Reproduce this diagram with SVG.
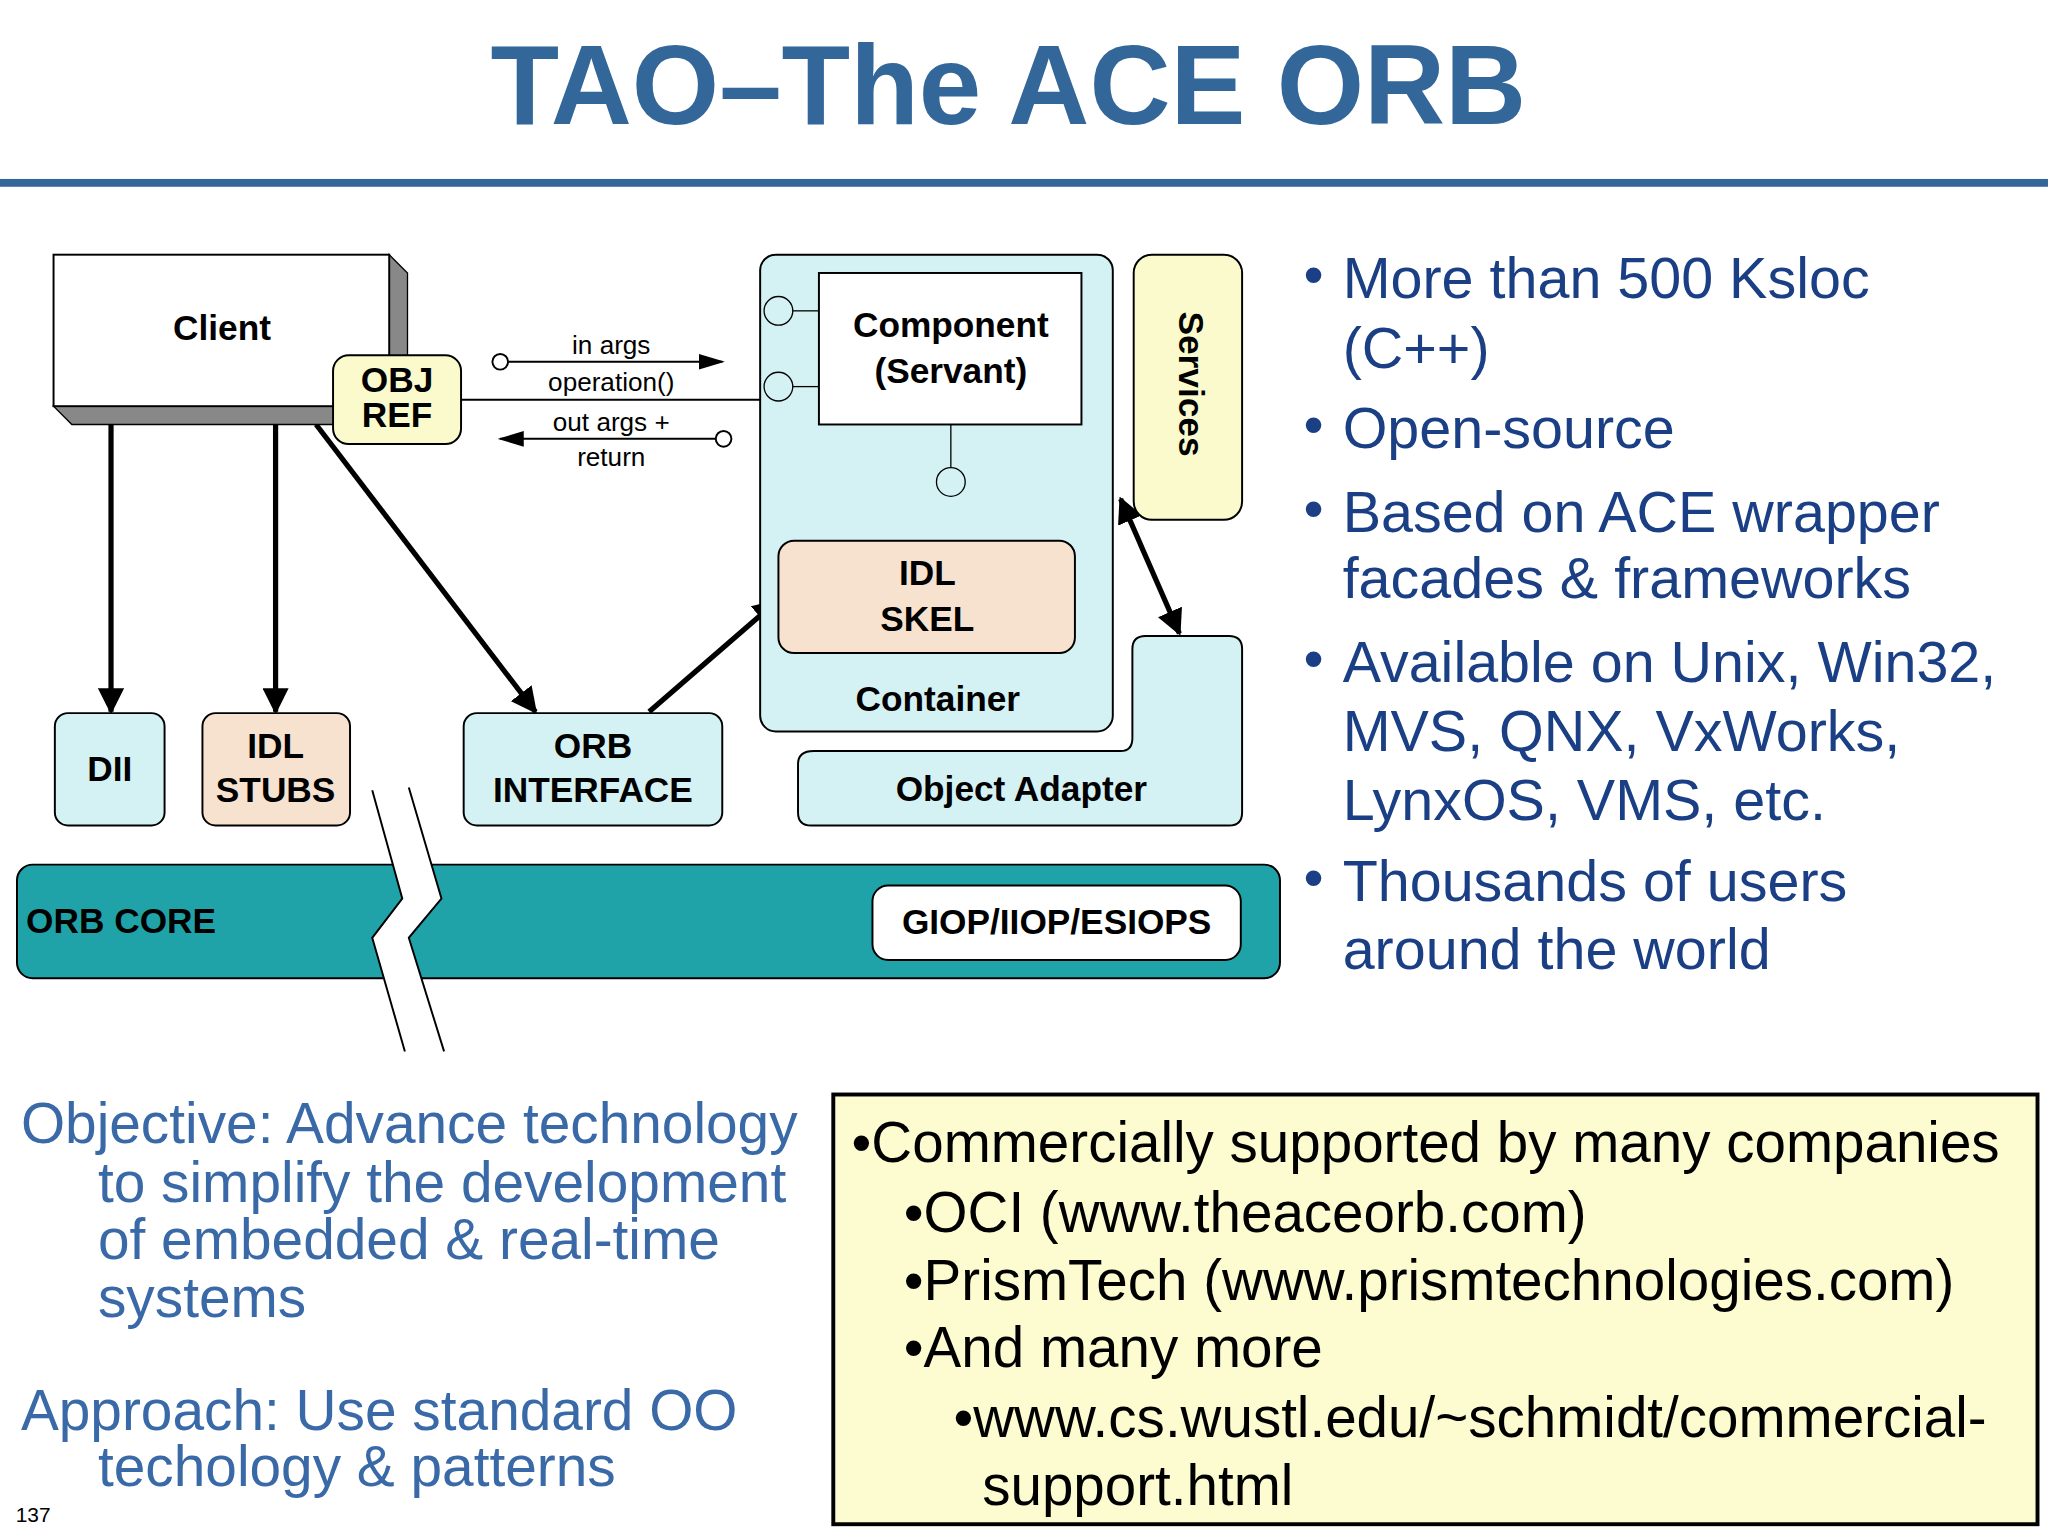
<svg xmlns="http://www.w3.org/2000/svg" width="2048" height="1536" viewBox="0 0 2048 1536">
<defs>
<marker id="ah" viewBox="0 0 10 10" refX="9" refY="5" markerWidth="5" markerHeight="5" orient="auto-start-reverse"><path d="M0,0 L10,5 L0,10 z" fill="#000"/></marker>
<marker id="ahs" viewBox="0 0 10 10" refX="9" refY="5" markerWidth="20" markerHeight="12" orient="auto-start-reverse" markerUnits="userSpaceOnUse" preserveAspectRatio="none"><path d="M0,0 L10,5 L0,10 z" fill="#000"/></marker>
<style>
text{font-family:"Liberation Sans",Arial,sans-serif}
.b{font-weight:bold;font-size:27px;fill:#000;text-anchor:middle}
.s{font-size:20px;fill:#000;text-anchor:middle}
.nd{stroke:#000;stroke-width:1.5}
.cy{fill:#d4f2f4}
.pe{fill:#f6e2cf}
.ye{fill:#fafacc}
.bl{font-size:44px;fill:#1b3f85}
.ob{font-size:43.5px;fill:#3a69a8}
.bx{font-size:43.3px;fill:#000}
.ar{stroke:#000;stroke-width:4;fill:none;marker-end:url(#ah)}
</style>
</defs>
<rect width="2048" height="1536" fill="#fff"/>
<g transform="scale(1.3061)">
<text x="772" y="95" font-size="86" font-weight="bold" fill="#336699" text-anchor="middle">TAO–The ACE ORB</text>
<rect x="0" y="137" width="1568" height="6" fill="#336699"/>

<g id="connectors">
<line x1="353" y1="306" x2="582" y2="306" stroke="#000" stroke-width="1.5"/>
<line x1="389" y1="277" x2="553" y2="277" stroke="#000" stroke-width="1.5" marker-end="url(#ahs)"/>
<circle cx="383" cy="277" r="6" fill="#fff" stroke="#000" stroke-width="1.5"/>
<line x1="548" y1="336" x2="383" y2="336" stroke="#000" stroke-width="1.5" marker-end="url(#ahs)"/>
<circle cx="554" cy="336" r="6" fill="#fff" stroke="#000" stroke-width="1.5"/>
<line class="ar" x1="85" y1="325" x2="85" y2="545"/>
<line class="ar" x1="211" y1="325" x2="211" y2="545"/>
<line class="ar" x1="242" y1="325" x2="410" y2="545"/>
<line class="ar" x1="497" y1="545" x2="595" y2="460"/>
<line class="ar" x1="858" y1="382" x2="903" y2="485" marker-start="url(#ah)"/>
</g>

<g id="client">
<polygon points="298,195 312,209 312,325 298,311" fill="#888" stroke="#000"/>
<polygon points="41,311 298,311 312,325 55,325" fill="#888" stroke="#000"/>
<rect x="41" y="195" width="257" height="116" fill="#fff" stroke="#000" stroke-width="1.5"/>
<text class="b" x="170" y="260">Client</text>
</g>
<g id="objref"><rect class="nd ye" x="255" y="272" width="98" height="68" rx="12"/>
<text class="b" x="304" y="300" font-size="22">OBJ</text><text class="b" x="304" y="327" font-size="22">REF</text></g>
<g class="s"><text class="s" x="468" y="271">in args</text><text class="s" x="468" y="299">operation()</text><text class="s" x="468" y="330">out args +</text><text class="s" x="468" y="357">return</text></g>

<g id="dii"><rect class="nd cy" x="42" y="546" width="84" height="86" rx="10"/><text class="b" x="84" y="598">DII</text></g>
<g id="stubs"><rect class="nd pe" x="155" y="546" width="113" height="86" rx="10"/><text class="b" x="211" y="580">IDL</text><text class="b" x="211" y="614">STUBS</text></g>
<g id="orbint"><rect class="nd cy" x="355" y="546" width="198" height="86" rx="10"/><text class="b" x="454" y="580">ORB</text><text class="b" x="454" y="614">INTERFACE</text></g>

<g id="container"><rect class="nd cy" x="582" y="195" width="270" height="365" rx="12"/><text class="b" x="718" y="544">Container</text></g>
<g id="component"><rect class="nd" fill="#fff" x="627" y="209" width="201" height="116"/>
<text class="b" x="728" y="258">Component</text><text class="b" x="728" y="293">(Servant)</text>
<circle cx="596" cy="238" r="11" fill="#d4f2f4" stroke="#000"/><line x1="607" y1="238" x2="627" y2="238" stroke="#000"/>
<circle cx="596" cy="296" r="11" fill="#d4f2f4" stroke="#000"/><line x1="607" y1="296" x2="627" y2="296" stroke="#000"/>
<line x1="728" y1="325" x2="728" y2="358" stroke="#000"/><circle cx="728" cy="369" r="11" fill="#d4f2f4" stroke="#000"/></g>
<g id="skel"><rect class="nd pe" x="596" y="414" width="227" height="86" rx="12"/><text class="b" x="710" y="448">IDL</text><text class="b" x="710" y="483">SKEL</text></g>
<g id="services"><rect class="nd ye" x="868" y="195" width="83" height="203" rx="14"/>
<text class="b" font-size="20" transform="translate(903,294) rotate(90)">Services</text></g>
<g id="oa"><path class="nd cy" d="M623,575 H858 Q867,575 867,565 V497 Q867,487 877,487 H941 Q951,487 951,497 V622 Q951,632 941,632 H621 Q611,632 611,622 V585 Q611,575 623,575 Z"/>
<text class="b" x="782" y="613">Object Adapter</text></g>

<g id="orbcore"><rect x="13" y="662" width="967" height="87" rx="12" fill="#20a3a8" stroke="#000" stroke-width="1.5"/>
<text x="20" y="714" font-size="27" font-weight="bold" fill="#000">ORB CORE</text>
<rect x="668" y="678" width="282" height="57" rx="12" fill="#fff" stroke="#000" stroke-width="1.5"/>
<text class="b" x="809" y="715">GIOP/IIOP/ESIOPS</text></g>
<g id="break">
<polygon points="285,605 308,688 285,718 310,805 340,805 313,718 338,688 313,603" fill="#fff"/>
<polyline points="285,605 308,688 285,718 310,805" fill="none" stroke="#000" stroke-width="1.5"/>
<polyline points="313,603 338,688 313,718 340,805" fill="none" stroke="#000" stroke-width="1.5"/>
</g>

<g id="bullets">
<text class="bl" x="998" y="225" font-size="30">•</text><text class="bl" x="1028" y="228">More than 500 Ksloc</text><text class="bl" x="1028" y="282">(C++)</text>
<text class="bl" x="998" y="340" font-size="30">•</text><text class="bl" x="1028" y="343">Open-source</text>
<text class="bl" x="998" y="404" font-size="30">•</text><text class="bl" x="1028" y="407">Based on ACE wrapper</text><text class="bl" x="1028" y="458">facades &amp; frameworks</text>
<text class="bl" x="998" y="519" font-size="30">•</text><text class="bl" x="1028" y="522">Available on Unix, Win32,</text><text class="bl" x="1028" y="575">MVS, QNX, VxWorks,</text><text class="bl" x="1028" y="628">LynxOS, VMS, etc.</text>
<text class="bl" x="998" y="687" font-size="30">•</text><text class="bl" x="1028" y="690">Thousands of users</text><text class="bl" x="1028" y="742">around the world</text>
</g>

<g id="objective">
<text class="ob" x="16" y="875">Objective: Advance technology</text>
<text class="ob" x="75" y="920">to simplify the development</text>
<text class="ob" x="75" y="964">of embedded &amp; real-time</text>
<text class="ob" x="75" y="1008">systems</text>
<text class="ob" x="16" y="1095">Approach: Use standard OO</text>
<text class="ob" x="75" y="1138">techology &amp; patterns</text>
<text x="12" y="1165" font-size="16" fill="#000">137</text>
</g>

<g id="commercial">
<rect x="638" y="838" width="922" height="329" fill="#fcfcd0" stroke="#000" stroke-width="3"/>
<text class="bx" x="652" y="890">•Commercially supported by many companies</text>
<text class="bx" x="692" y="943">•OCI (www.theaceorb.com)</text>
<text class="bx" x="692" y="995">•PrismTech (www.prismtechnologies.com)</text>
<text class="bx" x="692" y="1047">•And many more</text>
<text class="bx" x="730" y="1100">•www.cs.wustl.edu/~schmidt/commercial-</text>
<text class="bx" x="752" y="1152">support.html</text>
</g>
</g>
</svg>
